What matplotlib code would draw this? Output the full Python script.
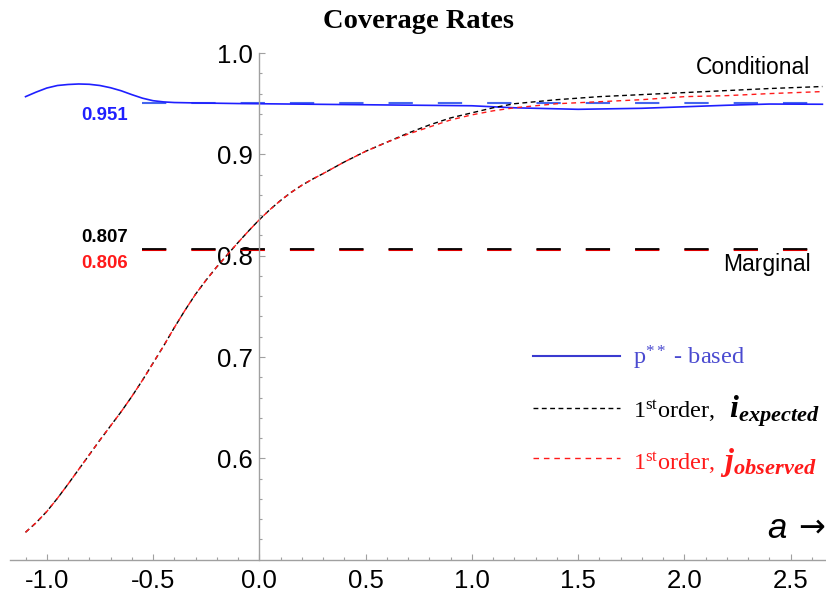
import matplotlib
matplotlib.use("Agg")
import numpy as np
import matplotlib.pyplot as plt
from matplotlib.lines import Line2D
from matplotlib.ticker import FixedLocator

# --- data ---
a_pstar = [-1.1, -1.05, -1.0, -0.95, -0.9, -0.85, -0.8, -0.75, -0.7, -0.65,
           -0.6, -0.55, -0.5, -0.45, -0.4, -0.3, -0.2, -0.1, 0.0, 0.5, 1.0,
           1.2, 1.5, 1.8, 2.0, 2.2, 2.4, 2.65]
cov_pstar = [0.957, 0.9615, 0.9655, 0.968, 0.969, 0.9695, 0.9692, 0.968,
             0.9658, 0.9628, 0.959, 0.9555, 0.953, 0.9518, 0.9512, 0.9508,
             0.9505, 0.9502, 0.950, 0.949, 0.948, 0.946, 0.9445, 0.9455,
             0.947, 0.9485, 0.9497, 0.9495]

a_first = [-1.1, -1.05, -1.0, -0.95, -0.9, -0.85, -0.8, -0.75, -0.7, -0.65,
           -0.6, -0.55, -0.5, -0.45, -0.4, -0.35, -0.3, -0.25, -0.2, -0.15,
           -0.1, -0.05, 0.0, 0.05, 0.1, 0.15, 0.2, 0.25, 0.3, 0.4, 0.5, 0.6,
           0.7, 0.8, 0.9, 1.0, 1.1, 1.2, 1.4, 1.6, 1.8, 2.0, 2.2, 2.4, 2.65]
cov_expected = [0.527, 0.5365, 0.5475, 0.5605, 0.5745, 0.589, 0.6035, 0.618,
                0.632, 0.646, 0.661, 0.677, 0.694, 0.711, 0.729, 0.746,
                0.762, 0.776, 0.789, 0.801, 0.813, 0.8245, 0.8355, 0.8455,
                0.8545, 0.8625, 0.8695, 0.8755, 0.881, 0.8925, 0.903, 0.912,
                0.921, 0.929, 0.936, 0.941, 0.946, 0.950, 0.954, 0.957,
                0.959, 0.961, 0.963, 0.965, 0.967]
cov_observed = [0.527, 0.5365, 0.5475, 0.5605, 0.5745, 0.589, 0.6035, 0.618,
                0.632, 0.646, 0.661, 0.677, 0.694, 0.711, 0.729, 0.746,
                0.762, 0.776, 0.789, 0.801, 0.813, 0.8245, 0.8355, 0.8455,
                0.8545, 0.8625, 0.8695, 0.8755, 0.881, 0.8925, 0.903, 0.912,
                0.920, 0.927, 0.934, 0.939, 0.943, 0.946, 0.950, 0.952,
                0.954, 0.957, 0.958, 0.960, 0.962]

cond_level = 0.951
marg_expected = 0.807
marg_observed = 0.806
ref_span = [-0.553, 2.62]

x_major = [-1.0, -0.5, 0.0, 0.5, 1.0, 1.5, 2.0, 2.5]
y_major = [0.6, 0.7, 0.8, 0.9, 1.0]

plt.rcParams["lines.scale_dashes"] = False
plt.rcParams["axes.unicode_minus"] = False
plt.rcParams["mathtext.fontset"] = "custom"
plt.rcParams["mathtext.rm"] = "Liberation Serif"
plt.rcParams["mathtext.it"] = "Liberation Serif:italic"
plt.rcParams["mathtext.bf"] = "Liberation Serif:bold"
plt.rcParams["mathtext.bfit"] = "Liberation Serif:bold:italic"

BLUE = "#1f1fff"
RED = "#ff1a1a"
GRAY = "#a0a0a0"

fig = plt.figure(figsize=(8.26, 5.96), dpi=100)
ax = fig.add_axes([0, 0, 1, 1])
ax.set_xlim(-1.2202, 2.667)
ax.set_ylim(0.4641, 1.0524)
ax.patch.set_visible(False)

# reference levels
ax.hlines(cond_level, *ref_span, colors="#4466ee", lw=1.5, linestyles=(0, (17.5, 18)))
ax.hlines(marg_observed, *ref_span, colors="#dd0000", lw=1.5, linestyles=(0, (17.5, 18)))
ax.hlines(marg_expected, *ref_span, colors="black", lw=1.3, linestyles=(0, (17.5, 18)))

# curves
ax.plot(a_pstar, cov_pstar, color=BLUE, lw=1.2, solid_joinstyle="round")
ax.plot(a_first, cov_expected, color="black", lw=1.0, dashes=(3.5, 2.5))
ax.plot(a_first, cov_observed, color=RED, lw=1.0, dashes=(3.5, 3.0))

# Mathematica-style axes crossing at (0, 0.5)
for s in ["top", "right"]:
    ax.spines[s].set_visible(False)
ax.spines["left"].set_position(("data", 0))
ax.spines["bottom"].set_position(("data", 0.5))
ax.spines["left"].set_bounds(0.5, 1.0)
ax.spines["bottom"].set_bounds(-1.173, 2.667)
for s in ["left", "bottom"]:
    ax.spines[s].set_color(GRAY)
    ax.spines[s].set_linewidth(1.0)

ax.xaxis.set_major_locator(FixedLocator(x_major))
ax.xaxis.set_minor_locator(FixedLocator(np.round(np.arange(-1.1, 2.65, 0.1), 2)))
ax.yaxis.set_major_locator(FixedLocator(y_major))
ax.yaxis.set_minor_locator(FixedLocator(np.round(np.arange(0.52, 1.0, 0.02), 2)))
ax.set_xticklabels([f"{v:.1f}" for v in x_major])
ax.set_yticklabels([f"{v:.1f}" for v in y_major])
ax.tick_params(which="both", direction="in", color=GRAY, width=0.8)
ax.tick_params(which="major", length=4.3)
ax.tick_params(which="minor", length=2.2)
ax.tick_params(axis="x", which="major", pad=7)
ax.tick_params(axis="y", which="major", pad=4.5)
for lab in ax.get_xticklabels() + ax.get_yticklabels():
    lab.set_fontfamily("Liberation Sans")
    lab.set_fontsize(18.5)

# texts
fig.text(0.507, 0.9525, "Coverage Rates", ha="center", va="baseline",
         fontsize=20.5, fontweight="bold", family="Liberation Serif")
fig.text(0.981, 0.8753, "Conditional", ha="right", va="baseline",
         fontsize=16.5, family="Liberation Sans")
fig.text(0.981, 0.5453, "Marginal", ha="right", va="baseline",
         fontsize=16.5, family="Liberation Sans")
fig.text(0.155, 0.7987, f"{cond_level:.3f}", ha="right", va="baseline",
         fontsize=13.4, fontweight="bold", family="Liberation Sans", color=BLUE)
fig.text(0.155, 0.5945, f"{marg_expected:.3f}", ha="right", va="baseline",
         fontsize=13.4, fontweight="bold", family="Liberation Sans", color="black")
fig.text(0.155, 0.5498, f"{marg_observed:.3f}", ha="right", va="baseline",
         fontsize=13.4, fontweight="bold", family="Liberation Sans", color=RED)
fig.text(0.940, 0.0975, "a", ha="center", va="baseline", fontsize=25,
         style="italic", family="Liberation Sans")
fig.text(0.982, 0.1005, "\u2192", ha="center", va="baseline", fontsize=23,
         family=["DejaVu Sans"])

# legend (hand placed, like the original)
leg_rows = [
    (0.4027, 0.3876, dict(color="#3a3ad0", lw=1.5), "p$^{**}$ - based", "#4a4ad0", None, None),
    (0.3154, 0.2987, dict(color="black", lw=1.0, dashes=(3.5, 2.5)), "1$^{\\mathrm{st}}$order,",
     "black", r"$\mathbfit{i}_{\mathbfit{expected}}$", 0.8826),
    (0.2315, 0.2114, dict(color=RED, lw=1.0, dashes=(4, 3.5)), "1$^{\\mathrm{st}}$order,",
     RED, r"$\mathbfit{j}_{\mathbfit{observed}}$", 0.8717),
]
for ly, by, style, txt, tcol, extra, ex_x in leg_rows:
    fig.add_artist(Line2D([0.645, 0.751], [ly, ly], transform=fig.transFigure, **style))
    fig.text(0.766, by, txt, ha="left", va="baseline", fontsize=17.5,
             family="Liberation Serif", color=tcol)
    if extra:
        fig.text(ex_x, by, extra, ha="left", va="baseline", fontsize=23,
                 color=tcol)

fig.savefig("out.png", dpi=100, facecolor="white")
